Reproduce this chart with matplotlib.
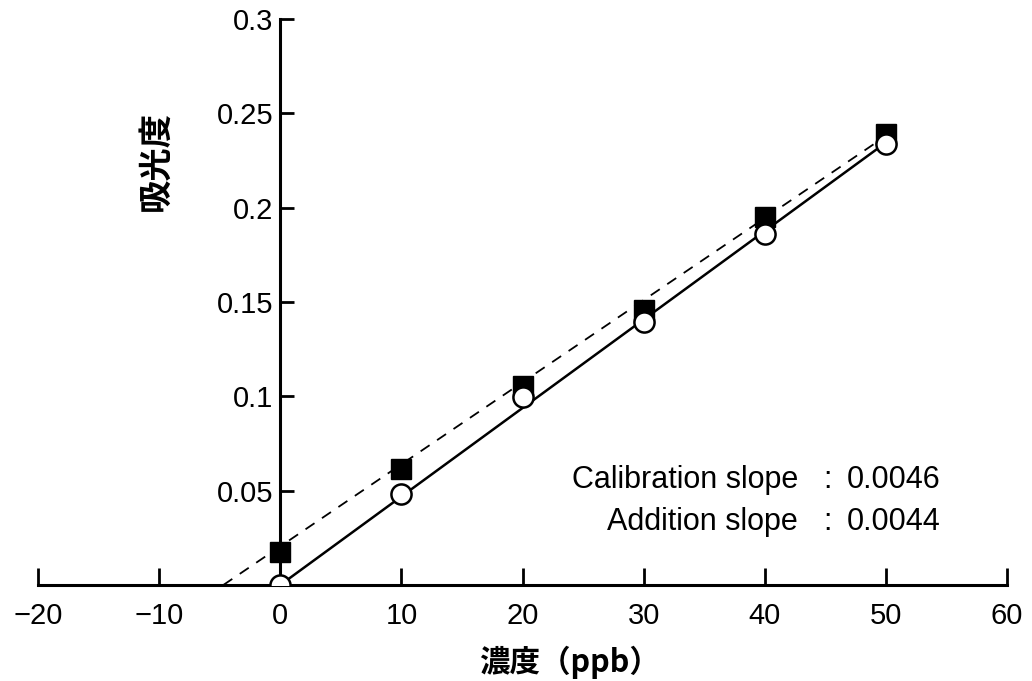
import matplotlib
matplotlib.use("Agg")
import matplotlib.pyplot as plt

# data
conc = [0, 10, 20, 30, 40, 50]
calib_abs = [0.0175, 0.0616, 0.1056, 0.146, 0.195, 0.239]   # filled squares
addition_abs = [0.0, 0.048, 0.0998, 0.1396, 0.186, 0.2335]   # open circles
dash_x = [-4.7, 50]
dash_y = [0.0, 0.238]
solid_x = [0, 50]
solid_y = [0.0, 0.2345]
xticks = [-20, -10, 0, 10, 20, 30, 40, 50, 60]
xtick_labels = ["\u221220", "\u221210", "0", "10", "20", "30", "40", "50", "60"]
yticks = [0.05, 0.1, 0.15, 0.2, 0.25, 0.3]
ytick_labels = ["0.05", "0.1", "0.15", "0.2", "0.25", "0.3"]
slope_names = ["Calibration slope", "Addition slope"]
slope_vals = ["0.0046", "0.0044"]

plt.rcParams['font.family'] = ['Liberation Sans', 'DejaVu Sans']

fig = plt.figure(figsize=(10.32, 6.81), dpi=100)
W, H = 1032, 681
ax = fig.add_axes([38/W, 1-585/H, (1007-38)/W, (585-19)/H])
ax.set_xlim(-20, 60)
ax.set_ylim(0, 0.3)

for s in ['top', 'right']:
    ax.spines[s].set_visible(False)
ax.spines['left'].set_position(('data', 0))
ax.spines['bottom'].set_position(('data', 0))
ax.spines['left'].set_linewidth(2.2)
ax.spines['bottom'].set_linewidth(2.2)

ax.plot(dash_x, dash_y, color='black', lw=1.3, ls=(0, (6, 5)), zorder=2)
ax.plot(solid_x, solid_y, color='black', lw=1.8, zorder=2)
ax.plot(conc, calib_abs, ls='none', marker='s', ms=14.5, mfc='black', mec='black', zorder=3)
ax.plot(conc, addition_abs, ls='none', marker='o', ms=14.5, mfc='white', mec='black', mew=1.8, zorder=4)

ax.set_xticks(xticks)
ax.set_xticklabels(xtick_labels, fontsize=21)
ax.set_yticks(yticks)
ax.set_yticklabels(ytick_labels, fontsize=21)
ax.tick_params(axis='x', direction='in', length=12, width=2, pad=12)
ax.tick_params(axis='y', direction='in', length=10, width=2, pad=5)

cjk = ['Noto Sans CJK JP', 'DejaVu Sans']
fig.text(156/W, 1-161/H, "吸光度", rotation=90, fontsize=24, fontweight='bold',
         family=cjk, ha='center', va='center')
fig.text(570/W, 1-662/H, "濃度（ppb）", fontsize=22, fontweight='bold',
         family=cjk, ha='center', va='center')

baselines = [488, 530]
for name, val, yb in zip(slope_names, slope_vals, baselines):
    fig.text(798/W, 1-yb/H, name, fontsize=22, ha='right', va='baseline')
    fig.text(827/W, 1-yb/H, ":", fontsize=22, ha='center', va='baseline')
    fig.text(847/W, 1-yb/H, val, fontsize=22, ha='left', va='baseline')

fig.savefig("out.png", dpi=100)
